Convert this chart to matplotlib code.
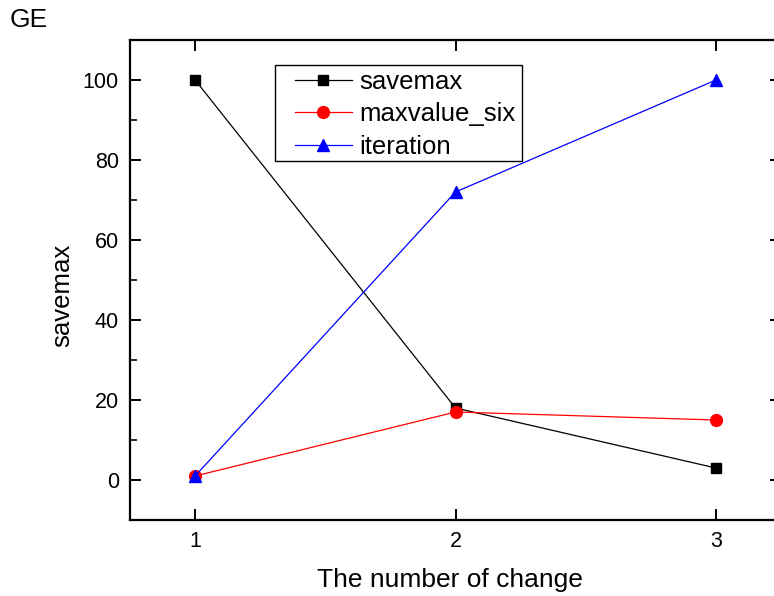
import numpy as np
import matplotlib
matplotlib.use('Agg')
import matplotlib.pyplot as plt
from matplotlib.ticker import MultipleLocator
from matplotlib.patches import Rectangle

plt.rcParams['font.family'] = ['Liberation Sans', 'DejaVu Sans']

# data
x = [1, 2, 3]
savemax = [100, 18, 3]
maxvalue_six = [1, 17, 15]
iteration = [1, 72, 100]

fig = plt.figure(figsize=(7.74, 5.96), dpi=100)
ax = fig.add_axes([130/774, 76/596, 651/774, 480/596])

ax.plot(x, savemax, color='black', lw=0.9, marker='s', ms=7.5, label='savemax')
ax.plot(x, maxvalue_six, color='red', lw=0.9, marker='o', ms=8.5, label='maxvalue_six')
ax.plot(x, iteration, color='blue', lw=0.9, marker='^', ms=9, label='iteration')

ax.set_xlim(0.75, 3.25)
ax.set_ylim(-10, 110)
ax.set_xticks([1, 2, 3])
ax.yaxis.set_major_locator(MultipleLocator(20))
ax.yaxis.set_minor_locator(MultipleLocator(10))

for s in ax.spines.values():
    s.set_linewidth(1.6)
ax.tick_params(which='major', direction='in', length=8, width=1.4,
               top=True, right=True, labelsize=15.5, pad=8)
ax.tick_params(which='minor', direction='in', length=5, width=1.2, right=True)

ax.set_xlabel('The number of change', fontsize=19)
ax.xaxis.set_label_coords(0.4916, -0.10)
ax.set_ylabel('savemax', fontsize=18.5)
ax.yaxis.set_label_coords(-0.086, 0.467)

# legend without its own frame, box drawn separately
leg = ax.legend(loc='upper left', bbox_to_anchor=(0.2535, 0.937), borderaxespad=0,
                fontsize=18.5, frameon=False, handlelength=2.2, borderpad=0,
                labelspacing=0.32, handletextpad=0.3)
ax.add_patch(Rectangle((0.2227, 0.7479), 0.6022 - 0.2227, 0.9479 - 0.7479,
                       transform=ax.transAxes, fill=False, ec='black', lw=1.0, zorder=5))

fig.text(10/774, 1 - 20/596, 'GE', fontsize=19, va='center', ha='left')

plt.savefig('out.png', dpi=100)
